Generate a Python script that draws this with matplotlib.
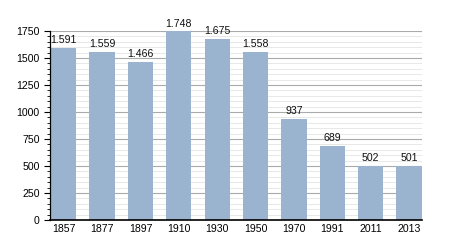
import matplotlib
matplotlib.use("Agg")
import matplotlib.pyplot as plt
from matplotlib.ticker import MultipleLocator

years = ["1857", "1877", "1897", "1910", "1930", "1950", "1970", "1991", "2011", "2013"]
population = [1591, 1559, 1466, 1748, 1675, 1558, 937, 689, 502, 501]
value_labels = ["1.591", "1.559", "1.466", "1.748", "1.675", "1.558", "937", "689", "502", "501"]

plt.rcParams["font.family"] = ["Liberation Sans", "DejaVu Sans"]

fig = plt.figure(figsize=(4.5, 2.5), dpi=100)
ax = fig.add_axes([0.111, 0.12, 0.826, 0.756])

bw = 0.66
x = range(len(years))
ax.bar(x, population, width=bw, color="#9ab3cf", zorder=3)
for i, (v, lab) in enumerate(zip(population, value_labels)):
    ax.text(i, v + 25, lab, ha="center", va="bottom", fontsize=7.6, color="#111111", zorder=4)

ax.set_xlim(-bw / 2 - 0.03, len(years) - 1 + bw / 2)
ax.set_ylim(0, 1750)
ax.set_xticks(list(x))
ax.set_xticklabels(years, fontsize=7.6)
ax.yaxis.set_major_locator(MultipleLocator(250))
ax.yaxis.set_minor_locator(MultipleLocator(50))
ax.tick_params(axis="y", labelsize=7.6, length=4, width=0.8, direction="out")
ax.tick_params(axis="y", which="minor", length=2, width=0.6)
ax.tick_params(axis="x", length=0, pad=3)
ax.grid(axis="y", which="major", color="#aaaaaa", linewidth=0.8, zorder=1)
ax.grid(axis="y", which="minor", color="#e4e4e4", linewidth=0.6, zorder=1)

for s in ["top", "right"]:
    ax.spines[s].set_visible(False)
ax.spines["left"].set_linewidth(0.9)
ax.spines["bottom"].set_linewidth(1.2)
ax.spines["left"].set_zorder(5)
ax.spines["bottom"].set_zorder(5)

fig.savefig("out.png", dpi=100)
